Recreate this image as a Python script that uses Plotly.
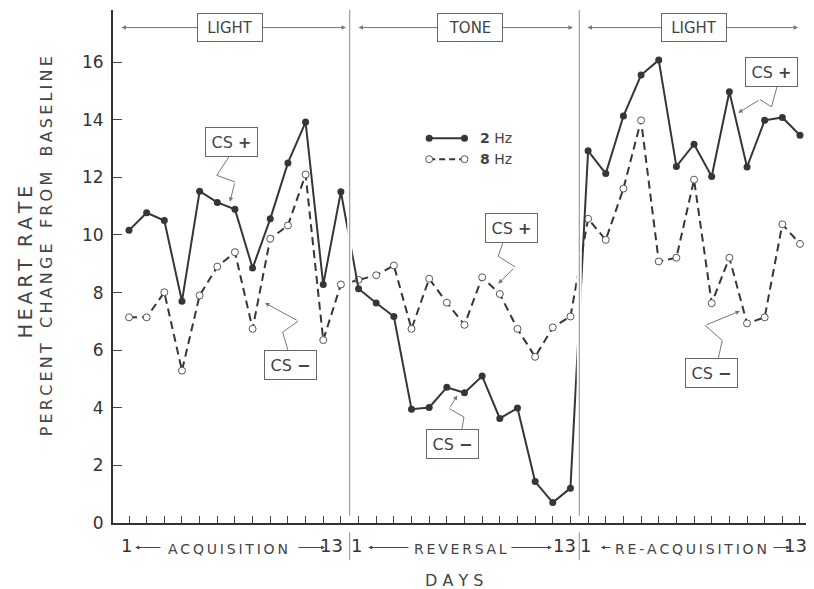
import plotly.graph_objects as go

# ---------------- data ----------------
phases = ["ACQUISITION", "REVERSAL", "RE-ACQUISITION"]
stimuli = ["LIGHT", "TONE", "LIGHT"]
days_per_phase = 13

hz2_acq = [10.16, 10.77, 10.50, 7.70, 11.52, 11.13, 10.89, 8.85, 10.56, 12.50, 13.92, 8.28, 11.50]
hz8_acq = [7.14, 7.14, 8.01, 5.29, 7.90, 8.90, 9.40, 6.74, 9.87, 10.33, 12.10, 6.35, 8.28]
hz2_rev = [8.13, 7.64, 7.17, 3.95, 4.01, 4.71, 4.52, 5.10, 3.63, 3.99, 1.44, 0.71, 1.21]
hz8_rev = [8.44, 8.60, 8.94, 6.74, 8.48, 7.65, 6.88, 8.53, 7.95, 6.74, 5.77, 6.79, 7.17]
hz2_reacq = [12.92, 12.13, 14.13, 15.55, 16.07, 12.38, 13.15, 12.03, 14.97, 12.36, 13.98, 14.08, 13.46]
hz8_reacq = [10.56, 9.83, 11.61, 13.98, 9.08, 9.21, 11.92, 7.63, 9.21, 6.93, 7.14, 10.37, 9.69]

y_ticks = [0, 2, 4, 6, 8, 10, 12, 14, 16]

# ---------------- build ----------------
hz2 = hz2_acq + hz2_rev + hz2_reacq
hz8 = hz8_acq + hz8_rev + hz8_reacq
x = list(range(1, 3 * days_per_phase + 1))

INK = "#363636"
GRAY = "#777777"
FONT = "DejaVu Sans"
ytop = 17.81
ts = "\u2009"  # thin space, used as letter spacing


def spaced(word):
    return ts.join(word)


def to_paper(v):
    """convert a y value (in axis units) to paper units, for labels below the axis"""
    return v / ytop


fig = go.Figure()
fig.add_trace(go.Scatter(
    x=x, y=hz8, mode="lines+markers", name="8 Hz",
    line=dict(color=INK, width=2, dash="8px,5px"),
    marker=dict(symbol="circle", size=7, color="white", line=dict(color="#555", width=1)),
    showlegend=False, cliponaxis=False))
fig.add_trace(go.Scatter(
    x=x, y=hz2, mode="lines+markers", name="2 Hz",
    line=dict(color=INK, width=2),
    marker=dict(symbol="circle", size=7, color=INK),
    showlegend=False, cliponaxis=False))

# legend keys (drawn to match the original key style)
fig.add_trace(go.Scatter(x=[18, 20], y=[13.36, 13.36], mode="lines+markers",
                         line=dict(color=INK, width=2), marker=dict(size=7, color=INK),
                         showlegend=False, hoverinfo="skip"))
fig.add_trace(go.Scatter(x=[18, 20], y=[12.63, 12.63], mode="lines+markers",
                         line=dict(color=INK, width=2, dash="6px,4px"),
                         marker=dict(size=7, color="white", line=dict(color="#555", width=1)),
                         showlegend=False, hoverinfo="skip"))

shapes = []
annotations = []

dividers = [days_per_phase + 0.5, 2 * days_per_phase + 0.5]
for d in dividers:
    shapes.append(dict(type="rect", xref="x", yref="y", x0=d - 0.14, x1=d + 0.14, y0=0.1, y1=ytop,
                       fillcolor="white", line=dict(width=0), layer="above"))
    shapes.append(dict(type="line", xref="x", yref="y", x0=d, x1=d, y0=0.25, y1=ytop,
                       line=dict(color="#8a8a8a", width=1), layer="above"))
    # divider continuing through the label row
    annotations.append(dict(x=d, y=to_paper(-1.28), xref="x", yref="paper", ax=d, axref="x",
                            ay=-29, ayref="pixel",
                            text="", showarrow=True, arrowhead=0, arrowwidth=1, arrowcolor="#8a8a8a",
                            standoff=0, startstandoff=0))

# top stimulus arrows and boxes
top_spans = [(0.49, 13.29), (13.91, 26.14), (26.88, 38.89)]
box_x = [6.72, 20.31, 32.99]
for (a, b), bx, lab in zip(top_spans, box_x, stimuli):
    annotations.append(dict(x=b, y=17.2, ax=a, ay=17.2, xref="x", yref="y", axref="x", ayref="y",
                            text="", showarrow=True, arrowhead=2, arrowside="end+start",
                            arrowsize=0.9, arrowwidth=1, arrowcolor=GRAY, standoff=0, startstandoff=0))
    annotations.append(dict(x=bx, y=17.2, xref="x", yref="y", text=lab, showarrow=False,
                            font=dict(family=FONT, size=15, color="#444"),
                            bgcolor="white", bordercolor="#666", borderwidth=1,
                            width=62, height=25, borderpad=1))

# CS callouts: box centre, zigzag points, arrow tip
callouts = [
    ("CS <b>+</b>", (6.80, 13.24), [(6.72, 12.77), (5.97, 12.07), (7.00, 11.84)], (6.72, 11.15)),
    ("CS <b>\u2212</b>", (10.13, 5.47), [(10.02, 5.96), (9.70, 6.63), (10.59, 7.01)], (8.70, 7.64)),
    ("CS <b>+</b>", (22.69, 10.23), [(22.19, 9.76), (21.91, 9.26), (22.86, 8.89)], (21.91, 8.31)),
    ("CS <b>\u2212</b>", (19.32, 2.73), [(19.84, 3.21), (19.97, 3.68), (19.14, 3.97)], (19.59, 4.43)),
    ("CS <b>+</b>", (37.40, 15.65), [(37.71, 15.17), (37.39, 14.45), (36.73, 14.70)], (35.50, 14.24)),
    ("CS <b>\u2212</b>", (33.96, 5.21), [(34.37, 5.71), (34.60, 6.34), (33.62, 6.86)], (35.60, 7.36)),
]
for txt, (cx, cy), pts, (tx, ty) in callouts:
    path = "M " + " L ".join(f"{px},{py}" for px, py in pts)
    shapes.append(dict(type="path", xref="x", yref="y", path=path,
                       line=dict(color=GRAY, width=1)))
    lx, ly = pts[-1]
    annotations.append(dict(x=tx, y=ty, ax=lx, ay=ly, xref="x", yref="y", axref="x", ayref="y",
                            text="", showarrow=True, arrowhead=2, arrowsize=0.9, arrowwidth=1,
                            arrowcolor=GRAY, standoff=0, startstandoff=0))
    annotations.append(dict(x=cx, y=cy, xref="x", yref="y", text=txt, showarrow=False,
                            font=dict(family=FONT, size=16, color="#444"),
                            bgcolor="white", bordercolor="#666", borderwidth=1,
                            width=49, height=26, borderpad=1))

# legend text
annotations.append(dict(x=20.75, y=13.36, xref="x", yref="y", xanchor="left", showarrow=False,
                        text="<b>2</b> Hz", font=dict(family=FONT, size=14, color="#444")))
annotations.append(dict(x=20.75, y=12.63, xref="x", yref="y", xanchor="left", showarrow=False,
                        text="<b>8</b> Hz", font=dict(family=FONT, size=14, color="#444")))

# bottom day labels
ylab = to_paper(-0.78)
lab_font = dict(family=FONT, size=18, color="#333")
phase_font = dict(family=FONT, size=14, color="#444")
starts = [1, 14, 27]
ends_x = [13.25, 26.4, 39.5]
centres = [6.63, 19.77, 32.85]
left_arrows = [(2.87, 1.35), (16.91, 14.55), (28.35, 27.72)]
right_arrows = [(10.51, 12.1), (22.57, 24.95), (37.41, 38.45)]
PX_PER_DAY = 17.66
for s, e, c, la, ra, ph in zip(starts, ends_x, centres, left_arrows, right_arrows, phases):
    annotations.append(dict(x=s - 0.12, y=ylab, xref="x", yref="paper", text="1", showarrow=False,
                            yanchor="middle", font=lab_font))
    annotations.append(dict(x=e, y=ylab, xref="x", yref="paper", text="13", xanchor="right",
                            yanchor="middle", showarrow=False, font=lab_font))
    words = ph.split("-")
    annotations.append(dict(x=c, y=ylab - 0.006, xref="x", yref="paper", yanchor="middle",
                            text=(ts + "-" + ts).join(spaced(w) for w in words),
                            showarrow=False, font=phase_font))
    for tail, tip in (la, ra):
        annotations.append(dict(x=tip, y=ylab - 0.004, xref="x", yref="paper",
                                ax=(tail - tip) * PX_PER_DAY, ay=0, axref="pixel", ayref="pixel",
                                text="", showarrow=True, arrowhead=2, arrowsize=0.8, arrowwidth=1,
                                arrowcolor="#444", standoff=0, startstandoff=0))

annotations.append(dict(x=19.4, y=to_paper(-1.99), xref="x", yref="paper", text="D A Y S",
                        yanchor="middle", showarrow=False, font=dict(family=FONT, size=16, color="#444")))

# y axis titles
annotations.append(dict(x=-0.126, y=0.51, xref="paper", yref="paper", xanchor="center",
                        yanchor="middle", text=spaced("HEART") + "  " + spaced("RATE"),
                        textangle=-90, showarrow=False, font=dict(family=FONT, size=19, color="#444")))
annotations.append(dict(x=-0.094, y=0.54, xref="paper", yref="paper", xanchor="center",
                        yanchor="middle",
                        text="   ".join(spaced(w) for w in ["PERCENT", "CHANGE", "FROM", "BASELINE"]),
                        textangle=-90, showarrow=False, font=dict(family=FONT, size=16, color="#444")))

# the page adds an 8px body margin, so the figure is drawn 8px smaller than the window
fig.update_layout(
    width=806, height=581,
    margin=dict(l=105, r=2, t=2, b=66),
    paper_bgcolor="white", plot_bgcolor="white",
    shapes=shapes, annotations=annotations,
    xaxis=dict(range=[0.094, 39.68], tickvals=x, showticklabels=False, ticks="inside",
               ticklen=7, tickcolor="#444", tickwidth=1, showline=True, linecolor="#333",
               linewidth=2, showgrid=False, zeroline=False),
    yaxis=dict(range=[0, ytop], tickvals=y_ticks, ticks="inside", ticklen=9, tickcolor="#444",
               tickwidth=1, showline=True, linecolor="#333", linewidth=2, showgrid=False,
               zeroline=False, tickfont=dict(family=FONT, size=17, color="#333"),
               ticklabelstandoff=4),
)

fig.write_html("out.html")
